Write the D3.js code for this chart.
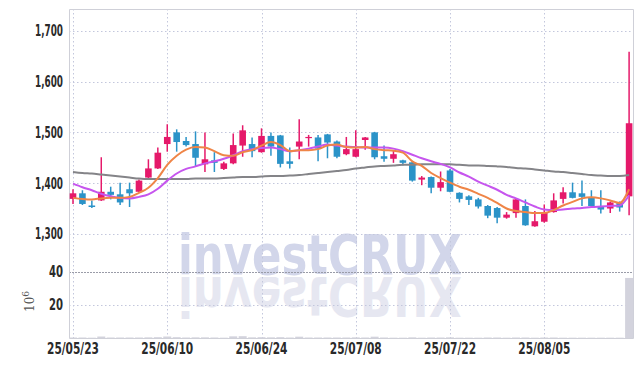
<!DOCTYPE html>
<html>
<head>
<meta charset="utf-8">
<script src="https://cdn.jsdelivr.net/npm/d3@7"></script>
<style>
  html, body { margin: 0; padding: 0; background: #fff; }
  svg { display: block; }
</style>
</head>
<body>
<div id="chart"></div>
<script>
// trading days (KRX)
const dates = ["25/05/23","25/05/26","25/05/27","25/05/28","25/05/29","25/05/30","25/06/02","25/06/04","25/06/05","25/06/09",
  "25/06/10","25/06/11","25/06/12","25/06/13","25/06/16","25/06/17","25/06/18","25/06/19","25/06/20","25/06/23",
  "25/06/24","25/06/25","25/06/26","25/06/27","25/06/30","25/07/01","25/07/02","25/07/03","25/07/04","25/07/07",
  "25/07/08","25/07/09","25/07/10","25/07/11","25/07/14","25/07/15","25/07/16","25/07/17","25/07/18","25/07/21",
  "25/07/22","25/07/23","25/07/24","25/07/25","25/07/28","25/07/29","25/07/30","25/07/31","25/08/01","25/08/04",
  "25/08/05","25/08/06","25/08/07","25/08/08","25/08/11","25/08/12","25/08/13","25/08/14","25/08/18","25/08/19"];

const open  = [1369,1380,1356,1366,1383,1378,1388,1383,1411,1429, 1477,1500,1483,1477,1437,1445,1428,1439,1474,1477,
               1461,1493,1494,1443,1472,1489,1490,1496,1482,1457, 1452,1485,1500,1453,1448,1445,1441,1407,1412,1391,
               1425,1381,1374,1368,1355,1351,1332,1341,1355,1315, 1324,1343,1369,1382,1380,1372,1355,1350,1362,1374];
const high  = [1388,1386,1366,1451,1393,1401,1401,1407,1447,1470, 1516,1506,1491,1502,1500,1461,1442,1498,1514,1490,
               1508,1500,1495,1470,1526,1495,1495,1497,1484,1491, 1504,1491,1501,1474,1464,1446,1442,1414,1413,1423,
               1428,1382,1376,1371,1357,1353,1343,1370,1368,1345, 1358,1380,1392,1401,1405,1386,1386,1364,1364,1659];
const low   = [1359,1357,1351,1365,1368,1357,1353,1382,1409,1428, 1462,1462,1472,1432,1422,1422,1426,1437,1452,1451,
               1460,1454,1431,1429,1447,1472,1443,1449,1449,1455, 1451,1466,1447,1442,1440,1435,1403,1396,1380,1384,
               1382,1362,1357,1350,1331,1321,1330,1332,1316,1314, 1322,1342,1360,1370,1355,1354,1340,1341,1344,1337];
const close = [1380,1359,1353,1383,1377,1362,1380,1405,1429,1460, 1491,1481,1475,1450,1447,1440,1439,1475,1504,1463,
               1493,1472,1438,1438,1482,1491,1468,1480,1452,1467, 1467,1490,1451,1448,1457,1440,1405,1411,1391,1402,
               1383,1369,1367,1354,1336,1332,1338,1368,1317,1325, 1343,1366,1382,1371,1373,1355,1348,1362,1352,1518];

// volume, in millions of shares
const volume = [0.3,0.3,0.2,0.9,0.3,0.3,0.3,0.3,0.4,0.5, 0.9,0.5,0.3,0.4,0.4,0.3,0.2,1.0,1.1,0.4,
                0.5,0.4,0.5,0.3,0.8,0.3,0.3,0.3,0.3,0.3, 0.4,0.3,0.8,0.3,0.2,0.2,0.4,0.2,0.3,0.3,
                0.4,0.2,0.2,0.2,0.3,0.3,0.2,0.3,0.3,0.2, 0.3,0.3,0.2,0.2,0.2,0.2,0.2,0.2,0.2,36.4];

// moving averages
const ma5  = [1371,1369,1368,1370,1371,1371,1373,1381,1391,1410, 1436,1454,1466,1471,1470,1463,1455,1454,1461,1465,
              1474,1481,1475,1463,1465,1465,1467,1474,1476,1471, 1470,1471,1467,1465,1464,1460,1443,1434,1420,1410,
              1401,1393,1387,1379,1371,1361,1350,1345,1343,1341, 1341,1347,1356,1363,1370,1372,1370,1366,1361,1388];
const ma20 = [1399,1392,1386,1379,1374,1371,1370,1373,1378,1389, 1405,1419,1428,1433,1439,1443,1448,1455,1463,1467,
              1469,1470,1467,1463,1465,1468,1472,1476,1474,1472, 1471,1470,1470,1470,1468,1463,1456,1449,1443,1438,
              1431,1421,1413,1403,1395,1387,1377,1370,1362,1354, 1348,1347,1348,1350,1351,1353,1354,1355,1356,1376];
const ma60 = [1422,1420,1419,1417,1415,1413,1411,1409,1408,1408, 1408,1408,1408,1409,1409,1409,1410,1411,1412,1412,
              1413,1414,1414,1415,1416,1418,1420,1422,1424,1426, 1429,1431,1433,1434,1435,1436,1436,1437,1437,1437,
              1437,1436,1435,1435,1434,1433,1432,1430,1429,1427, 1425,1423,1422,1420,1418,1416,1415,1414,1414,1416];

const priceTicks = [1300, 1400, 1500, 1600, 1700];
const volumeTicks = [20, 40];
const dateTicks = ["25/05/23", "25/06/10", "25/06/24", "25/07/08", "25/07/22", "25/08/05"];

const width = 643;
const height = 366;
const plotLeft = 69, plotRight = 633.5, plotTop = 9, plotSplit = 272, plotBottom = 338;

const upColor = "#e5196a";
const downColor = "#2b93c8";
const gridColor = "#c3c7dc";

const x = d3.scalePoint().domain(dates).range([73, 629.1]);
const y = d3.scaleLinear().domain([1225, 1743]).range([plotSplit, plotTop]);
const yVol = d3.scaleLinear().domain([0, 40]).range([plotBottom, plotSplit]);

const svg = d3.select("#chart").append("svg")
    .attr("width", width)
    .attr("height", height);

// watermark + its reflection
const wm = svg.append("g").style("font", "bold 56px 'DejaVu Sans', sans-serif");
wm.append("text")
    .attr("x", 178).attr("y", 274)
    .attr("textLength", 284).attr("lengthAdjust", "spacingAndGlyphs")
    .attr("fill", "#d2d6ea")
    .text("investCRUX");
wm.append("clipPath").attr("id", "refl")
    .append("rect").attr("x", 0).attr("y", 0).attr("width", width).attr("height", 44);
wm.append("g")
    .attr("transform", "translate(0,277)")
    .attr("clip-path", "url(#refl)")
    .append("text")
    .attr("transform", "scale(1,-1)")
    .attr("x", 178).attr("y", 0)
    .attr("textLength", 284).attr("lengthAdjust", "spacingAndGlyphs")
    .attr("fill", "#e6e7f1")
    .text("investCRUX");

// grid lines
const grid = svg.append("g")
    .attr("stroke", gridColor)
    .attr("stroke-dasharray", "1.5,2.5");
grid.selectAll(".hp").data(priceTicks).join("line")
    .attr("x1", plotLeft).attr("x2", plotRight)
    .attr("y1", d => Math.round(y(d)) + 0.5).attr("y2", d => Math.round(y(d)) + 0.5);
grid.selectAll(".hv").data(volumeTicks.filter(d => d !== 40)).join("line")
    .attr("x1", plotLeft).attr("x2", plotRight)
    .attr("y1", d => Math.round(yVol(d)) + 0.5).attr("y2", d => Math.round(yVol(d)) + 0.5);
grid.selectAll(".v").data(dateTicks).join("line")
    .attr("x1", d => Math.round(x(d)) + 0.5).attr("x2", d => Math.round(x(d)) + 0.5)
    .attr("y1", plotTop).attr("y2", plotBottom);

// panel separator
svg.append("line")
    .attr("x1", plotLeft).attr("x2", plotRight)
    .attr("y1", plotSplit + 0.5).attr("y2", plotSplit + 0.5)
    .attr("stroke", "#9a9ca8")
    .attr("stroke-dasharray", "2,1");

// frame
svg.append("path")
    .attr("d", `M${plotLeft + 0.5},${plotBottom + 0.5}V${plotTop + 0.5}H${plotRight}V${plotBottom + 0.5}Z`)
    .attr("fill", "none")
    .attr("stroke", "#cfd0d8");

// volume bars
svg.append("g").selectAll("rect").data(dates).join("rect")
    .attr("x", d => x(d) - 4)
    .attr("width", 8)
    .attr("y", (d, i) => yVol(volume[i]))
    .attr("height", (d, i) => plotBottom - yVol(volume[i]))
    .attr("fill", "#d3d3dd");

// candles
const candle = svg.append("g").selectAll("g").data(dates).join("g")
    .attr("fill", (d, i) => close[i] >= open[i] ? upColor : downColor)
    .attr("stroke", (d, i) => close[i] >= open[i] ? upColor : downColor);
candle.append("line")
    .attr("x1", d => x(d)).attr("x2", d => x(d))
    .attr("y1", (d, i) => y(high[i])).attr("y2", (d, i) => y(low[i]))
    .attr("stroke-width", 1.5);
candle.append("rect")
    .attr("x", d => x(d) - 3.3)
    .attr("width", 6.6)
    .attr("y", (d, i) => y(Math.max(open[i], close[i])))
    .attr("height", (d, i) => Math.max(1.2, Math.abs(y(open[i]) - y(close[i]))))
    .attr("stroke", "none");

// moving average lines
const line = series => d3.line()
    .x((d, i) => x(dates[i]))
    .y(d => y(d))
    .curve(d3.curveMonotoneX)(series);
[[ma60, "#848488"], [ma20, "#c655ee"], [ma5, "#ef8547"]].forEach(([s, c]) => {
    svg.append("path")
        .attr("d", line(s))
        .attr("fill", "none")
        .attr("stroke", c)
        .attr("stroke-width", 2);
});

// axes labels (squeezed to look like the narrow face of the original)
const labelFont = "bold 15px 'DejaVu Sans Condensed', 'DejaVu Sans', sans-serif";
svg.append("g")
    .style("font", labelFont)
    .attr("fill", "#2a2a2a")
    .attr("text-anchor", "end")
    .selectAll("text")
    .data(priceTicks).join("text")
    .attr("x", 63)
    .attr("y", d => y(d))
    .attr("dy", "0.36em")
    .attr("textLength", 28).attr("lengthAdjust", "spacingAndGlyphs")
    .text(d3.format(","));

svg.append("g")
    .style("font", labelFont)
    .attr("fill", "#2a2a2a")
    .attr("text-anchor", "end")
    .selectAll("text")
    .data(volumeTicks).join("text")
    .attr("x", 63)
    .attr("y", d => yVol(d))
    .attr("dy", "0.36em")
    .attr("textLength", 14).attr("lengthAdjust", "spacingAndGlyphs")
    .text(d => d);

svg.append("g")
    .style("font", labelFont)
    .attr("fill", "#2a2a2a")
    .attr("text-anchor", "middle")
    .selectAll("text")
    .data(dateTicks).join("text")
    .attr("x", d => x(d))
    .attr("y", 354)
    .attr("textLength", 52).attr("lengthAdjust", "spacingAndGlyphs")
    .text(d => d);

// volume unit
const unit = svg.append("text")
    .attr("transform", "translate(33.5,312) rotate(-90)")
    .style("font", "12px 'DejaVu Serif', serif")
    .attr("fill", "#555");
unit.append("tspan").text("10");
unit.append("tspan").attr("dy", -5).style("font-size", "9px").text("6");
</script>
</body>
</html>
